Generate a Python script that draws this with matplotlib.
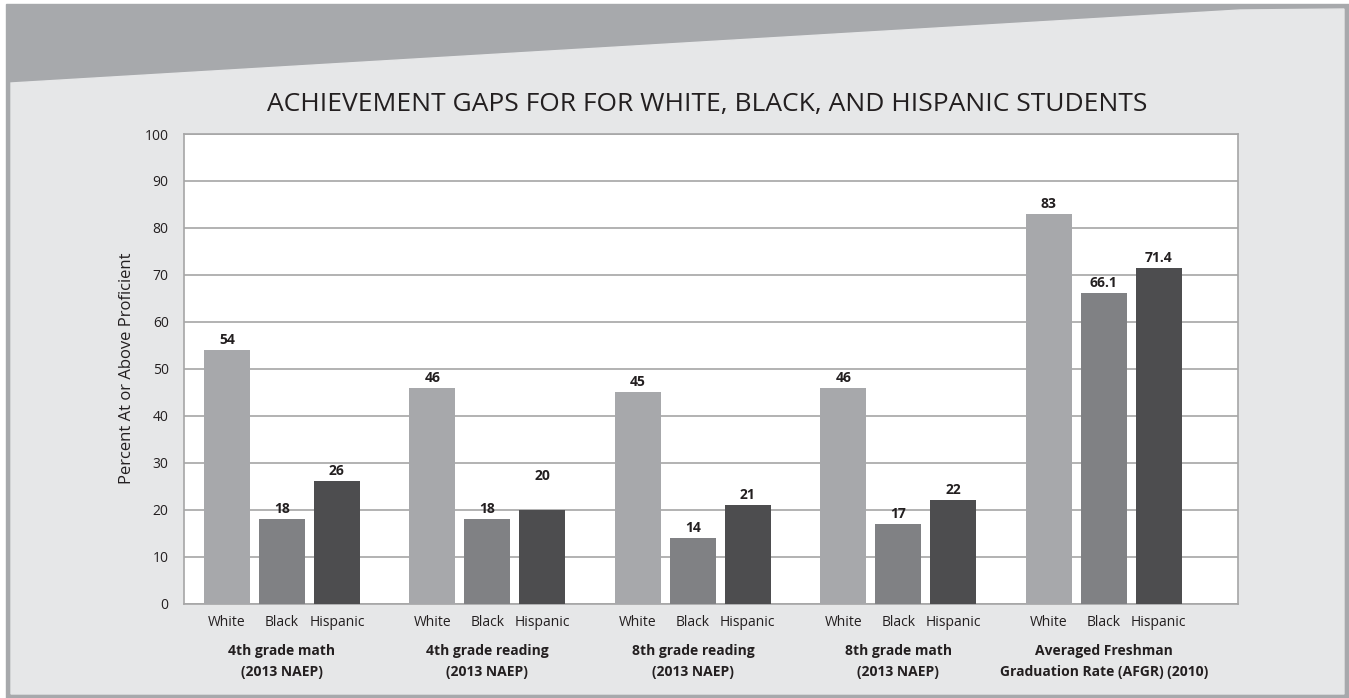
import matplotlib
matplotlib.use("Agg")
import matplotlib.pyplot as plt
from matplotlib.patches import Polygon, Rectangle

# data
groups = [
    ["4th grade math", "(2013 NAEP)"],
    ["4th grade reading", "(2013 NAEP)"],
    ["8th grade reading", "(2013 NAEP)"],
    ["8th grade math", "(2013 NAEP)"],
    ["Averaged Freshman", "Graduation Rate (AFGR) (2010)"],
]
races = ["White", "Black", "Hispanic"]
white = [54, 46, 45, 46, 83]
black = [18, 18, 14, 17, 66.1]
hispanic = [26, 20, 21, 22, 71.4]
yticks = [0, 10, 20, 30, 40, 50, 60, 70, 80, 90, 100]

W, H = 1349, 698
colors = ["#a7a8ab", "#808184", "#4d4d4f"]
txt = "#231f20"
plt.rcParams["font.family"] = ["Open Sans", "DejaVu Sans"]

fig = plt.figure(figsize=(W / 100, H / 100), dpi=100, facecolor="white")


def fx(x):
    return x / W


def fy(y):
    return 1 - y / H


# frame + slanted banner
fig.patches.append(Rectangle((fx(6), 0), fx(W - 6), fy(4), transform=fig.transFigure,
                             color="#a7a9ac", zorder=-2))
panel = [(11, 83), (1240, 10), (1344, 9), (1344, 694), (11, 694)]
fig.patches.append(Polygon([(fx(a), fy(b)) for a, b in panel], closed=True,
                           transform=fig.transFigure, color="#e6e7e8", zorder=-1))

ax = fig.add_axes([fx(184), fy(603.5), fx(1238 - 184), fy(134) - fy(603.5)])
ax.set_zorder(2)
ax.set_facecolor("white")

gap = 3.736
width = 0.84
series = [white, black, hispanic]
xs_all = []
for j, vals in enumerate(series):
    xs = [i * gap + j for i in range(len(groups))]
    ax.bar(xs, vals, width=width, color=colors[j], zorder=3)
    for i, (x, v) in enumerate(zip(xs, vals)):
        lift = 27 if (i == 1 and j == 2) else 3  # the "20" label sits high in the source
        ax.annotate(f"{v:g}", (x, v), xytext=(0, lift), textcoords="offset pixels",
                    ha="center", va="bottom", fontsize=10, fontweight="bold",
                    color=txt, zorder=4)
    xs_all += xs

ticks = sorted(xs_all)
ax.set_xticks(ticks)
ax.set_xticklabels([races[k % 3] for k in range(len(ticks))], fontsize=10, color=txt)
ax.tick_params(axis="x", length=0, pad=8)

ax.set_xlim(-0.78, (len(groups) - 1) * gap + 2 + 1.44)
ax.set_ylim(0, 100)
ax.set_yticks(yticks)
ax.tick_params(axis="y", length=0, pad=11, labelsize=10, labelcolor=txt)
ax.grid(axis="y", color="#a6a6a6", linewidth=1.2, zorder=1)
for s in ax.spines.values():
    s.set_color("#a6a6a6")
    s.set_linewidth(1.2)

# group labels under the race labels
trans = ax.get_xaxis_transform()
for i, lines in enumerate(groups):
    cx = i * gap + 1
    ax.text(cx, -(651 - 603.5) / 469.5, lines[0], transform=trans, ha="center",
            va="center", fontsize=10, fontweight="bold", color=txt)
    ax.text(cx, -(672 - 603.5) / 469.5, lines[1], transform=trans, ha="center",
            va="center", fontsize=10, fontweight="bold", color=txt)

fig.text(fx(127), fy(368), "Percent At or Above Proficient", rotation=90,
         ha="center", va="center", fontsize=12, color=txt)
fig.text(fx(707), fy(104), "ACHIEVEMENT GAPS FOR FOR WHITE, BLACK, AND HISPANIC STUDENTS",
         ha="center", va="center", fontsize=19, color=txt)

fig.savefig("out.png", dpi=100, facecolor=fig.get_facecolor())
